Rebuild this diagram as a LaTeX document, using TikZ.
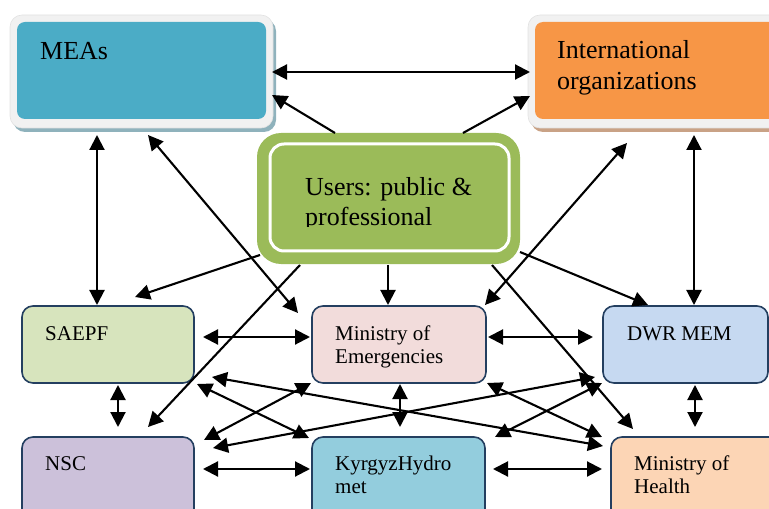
\documentclass[tikz,border=0pt]{standalone}
\usepackage{fontspec}
\setmainfont{Liberation Serif}
\usetikzlibrary{arrows.meta,calc}
\definecolor{meascol}{HTML}{4BACC6}
\definecolor{intlcol}{HTML}{F79646}
\definecolor{userscol}{HTML}{9BBB59}
\definecolor{saepfcol}{HTML}{D7E4BD}
\definecolor{minecol}{HTML}{F2DCDB}
\definecolor{dwrcol}{HTML}{C6D9F1}
\definecolor{nsccol}{HTML}{CCC1DA}
\definecolor{kyrcol}{HTML}{93CDDD}
\definecolor{healthcol}{HTML}{FCD5B5}
\definecolor{boxline}{HTML}{243F60}
\definecolor{framegray}{HTML}{F1F1F1}
\definecolor{frameedge}{HTML}{E2E2E2}
\definecolor{measshadow}{HTML}{8FB2BC}
\definecolor{intlshadow}{HTML}{C9A286}
\begin{document}
\begin{tikzpicture}[x=1bp,y=-1bp,
  lowbox/.style={draw=boxline, line width=1.6bp, rounded corners=11bp, anchor=north west,
    inner sep=0pt, outer sep=0pt, minimum height=77bp},
  framebox/.style={fill=framegray, draw=frameedge, line width=0.6bp, rounded corners=12bp,
    anchor=north west, inner sep=0pt, outer sep=0pt, minimum width=263bp, minimum height=113bp},
  innerbox/.style={rounded corners=8bp, anchor=north west, inner sep=0pt, outer sep=0pt,
    minimum width=249bp, minimum height=97bp},
  txt/.style={anchor=base west, inner sep=0pt, font=\fontsize{21bp}{23bp}\selectfont},
  bigtxt/.style={anchor=base west, inner sep=0pt, font=\fontsize{26bp}{31bp}\selectfont},
  link/.style={line width=2.1bp, -{Triangle[length=15bp,width=15bp]}},
  dlink/.style={line width=2.1bp, {Triangle[length=15bp,width=15bp]}-{Triangle[length=15bp,width=15bp]}}]
\useasboundingbox (0,0) rectangle (769,509);
\clip (0,0) rectangle (769,509);

% top boxes
\fill[measshadow, rounded corners=12bp] (13,19) rectangle (276,132);
\node[framebox] (meas) at (10,15) {};
\node[innerbox, fill=meascol] (measin) at (17,22) {};
\node[bigtxt] (meast) at (40,60) {MEAs};

\fill[intlshadow, rounded corners=12bp] (531,19) rectangle (794,132);
\node[framebox] (intl) at (528,15) {};
\node[innerbox, fill=intlcol] (intlin) at (535,22) {};
\node[bigtxt] (intlt1) at (557,59) {International};
\node[bigtxt] (intlt2) at (557,90) {organizations};

% users
\node[anchor=north west, fill=userscol, rounded corners=24bp, minimum width=263bp,
  minimum height=131bp, inner sep=0pt, outer sep=0pt] (users) at (257,133) {};
\draw[white, line width=3bp, rounded corners=14bp] (270,144) rectangle (509,251);
\begin{scope}
  \clip (272,140) rectangle (508,227);
  \node[bigtxt] (userst1) at (305,196) {Users: public \&};
  \node[bigtxt] (userst2) at (305,226) {professional};
\end{scope}

% lower boxes
\node[lowbox, fill=saepfcol, minimum width=172bp] (saepf) at (22,306) {};
\node[lowbox, fill=minecol, minimum width=174bp] (mine) at (312,306) {};
\node[lowbox, fill=dwrcol, minimum width=165bp] (dwr) at (603,306) {};
\node[lowbox, fill=nsccol, minimum width=172bp, minimum height=90bp] (nsc) at (22,437) {};
\node[lowbox, fill=kyrcol, minimum width=173bp, minimum height=90bp] (kyr) at (312,437) {};
\node[lowbox, fill=healthcol, minimum width=170bp, minimum height=90bp] (health) at (611,437) {};

\node[txt] (saepft) at (45,340) {SAEPF};
\node[txt] (minet1) at (335,340) {Ministry of};
\node[txt] (minet2) at (335,363) {Emergencies};
\node[txt] (dwrt) at (627,340) {DWR MEM};
\node[txt] (nsct) at (45,470) {NSC};
\node[txt] (kyrt1) at (335,470) {KyrgyzHydro};
\node[txt] (kyrt2) at (335,493) {met};
\node[txt] (healtht1) at (634,470) {Ministry of};
\node[txt] (healtht2) at (634,493) {Health};

% connectors
\draw[dlink] ($(meas.north west)+(262,57)$) -- ($(intl.north west)+(2,57)$);
\draw[link] ($(users.north west)+(78,0)$) -- ($(meas.north west)+(262,80)$);
\draw[link] ($(users.north west)+(206,0)$) -- ($(intl.north west)+(2,81)$);
\draw[dlink] ($(meas.north west)+(87,120)$) -- ($(saepf.north west)+(75,-1)$);
\draw[dlink] ($(intl.north west)+(166,120)$) -- ($(dwr.north west)+(91,-1)$);
\draw[dlink] ($(meas.north west)+(138,120)$) -- ($(mine.north west)+(-14,7)$);
\draw[dlink] ($(intl.north west)+(99,128)$) -- ($(mine.north west)+(173,-1)$);
\draw[link] ($(users.north west)+(3,122)$) -- ($(saepf.north west)+(113,-9)$);
\draw[link] ($(users.north west)+(131,132)$) -- ($(mine.north west)+(76,-1)$);
\draw[link] ($(users.north west)+(263,119)$) -- ($(dwr.north west)+(45,-1)$);
\draw[link] ($(users.north west)+(43,132)$) -- ($(nsc.north west)+(126,-10)$);
\draw[link] ($(users.north west)+(235,132)$) -- ($(health.north west)+(22,-8)$);
\draw[dlink] ($(saepf.north west)+(181,31)$) -- ($(mine.north west)+(-2,31)$);
\draw[dlink] ($(mine.north west)+(176,31)$) -- ($(dwr.north west)+(-10,31)$);
\draw[dlink] ($(saepf.north west)+(96,79)$) -- ($(nsc.north west)+(96,-10)$);
\draw[dlink] ($(mine.north west)+(88,78)$) -- ($(kyr.north west)+(88,-10)$);
\draw[dlink] ($(dwr.north west)+(92,79)$) -- ($(health.north west)+(84,-10)$);
\draw[dlink] ($(nsc.north west)+(181,32)$) -- ($(kyr.north west)+(-2,32)$);
\draw[dlink] ($(kyr.north west)+(181,32)$) -- ($(health.north west)+(-9,32)$);
\draw[dlink] ($(saepf.north west)+(190,71)$) -- ($(health.north west)+(-8,9)$);
\draw[dlink] ($(saepf.north west)+(175,78)$) -- ($(kyr.north west)+(-3,1)$);
\draw[dlink] ($(mine.north west)+(-1,77)$) -- ($(nsc.north west)+(182,3)$);
\draw[dlink] ($(nsc.north west)+(191,11)$) -- ($(dwr.north west)+(-8,71)$);
\draw[dlink] ($(mine.north west)+(175,77)$) -- ($(health.north west)+(-9,0)$);
\draw[dlink] ($(kyr.north west)+(183,0)$) -- ($(dwr.north west)+(-1,77)$);
\end{tikzpicture}
\end{document}
